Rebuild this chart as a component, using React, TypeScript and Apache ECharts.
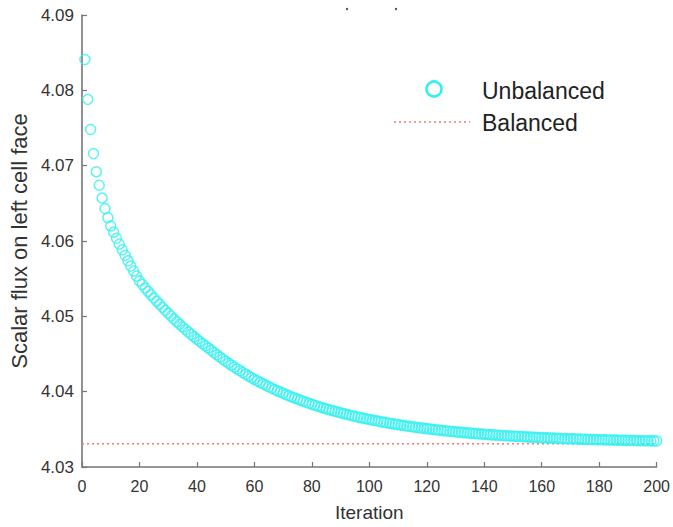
import React, { useEffect, useRef } from "react";
import * as echarts from "echarts";

// Scalar flux on the left cell face after each source iteration (iterations 1..200)
const unbalanced: number[] = [
  4.0841, 4.0788, 4.0748, 4.0716, 4.0692, 4.0674, 4.0657, 4.0643, 4.0631, 4.062,
  4.06117, 4.06037, 4.05958, 4.05882, 4.05809, 4.05737, 4.05667, 4.056, 4.05534, 4.0547,
  4.05423, 4.05376, 4.05331, 4.05287, 4.05243, 4.05201, 4.0516, 4.05119, 4.05079, 4.05041,
  4.05003, 4.04966, 4.04929, 4.04894, 4.04859, 4.04825, 4.04792, 4.0476, 4.04728, 4.04697,
  4.04667, 4.04637, 4.04608, 4.0458, 4.04549, 4.04518, 4.04489, 4.0446, 4.04432, 4.04404,
  4.04378, 4.04352, 4.04326, 4.04301, 4.04277, 4.04253, 4.0423, 4.04208, 4.04186, 4.04165,
  4.04144, 4.04123, 4.04104, 4.04084, 4.04065, 4.04047, 4.04029, 4.04012, 4.03995, 4.03978,
  4.03962, 4.03946, 4.0393, 4.03915, 4.03901, 4.03886, 4.03872, 4.03859, 4.03845, 4.03832,
  4.0382, 4.03807, 4.03795, 4.03784, 4.03772, 4.03761, 4.0375, 4.0374, 4.03729, 4.03719,
  4.03709, 4.037, 4.0369, 4.03681, 4.03672, 4.03664, 4.03655, 4.03647, 4.03639, 4.03631,
  4.03623, 4.03616, 4.03609, 4.03601, 4.03594, 4.03588, 4.03581, 4.03575, 4.03568, 4.03562,
  4.03556, 4.0355, 4.03545, 4.03539, 4.03534, 4.03528, 4.03523, 4.03518, 4.03513, 4.03509,
  4.03504, 4.03499, 4.03495, 4.03491, 4.03486, 4.03482, 4.03478, 4.03474, 4.03471, 4.03467,
  4.03463, 4.0346, 4.03456, 4.03453, 4.0345, 4.03446, 4.03443, 4.0344, 4.03437, 4.03434,
  4.03432, 4.03429, 4.03426, 4.03423, 4.03421, 4.03418, 4.03416, 4.03414, 4.03411, 4.03409,
  4.03407, 4.03405, 4.03403, 4.03401, 4.03399, 4.03397, 4.03395, 4.03393, 4.03391, 4.03389,
  4.03388, 4.03386, 4.03384, 4.03383, 4.03381, 4.0338, 4.03378, 4.03377, 4.03375, 4.03374,
  4.03373, 4.03371, 4.0337, 4.03369, 4.03368, 4.03366, 4.03365, 4.03364, 4.03363, 4.03362,
  4.03361, 4.0336, 4.03359, 4.03358, 4.03357, 4.03356, 4.03355, 4.03354, 4.03353, 4.03353,
  4.03352, 4.03351, 4.0335, 4.03349, 4.03349, 4.03348, 4.03347, 4.03347, 4.03346, 4.03345,
];

// Converged (balanced) value, drawn across the full iteration range
const balancedValue = 4.0331;
const balancedRange: number[] = [0, 200];

const xTicks = { min: 0, max: 200, interval: 20 };
const yTicks = { min: 4.03, max: 4.09, interval: 0.01 };

const CYAN = "#33f0f0";
const RED = "#f27a7a";
const AXIS = "#767676";
const TEXT = "#333333";
const FONT = "'Liberation Sans', Arial, sans-serif";

export default function App() {
  const ref = useRef<HTMLDivElement>(null);

  useEffect(() => {
    if (!ref.current) return;
    const chart = echarts.init(ref.current, undefined, { renderer: "svg" });

    const scatterData = unbalanced.map((v, i) => [i + 1, v]);
    const balancedData = balancedRange.map((x) => [x, balancedValue]);

    chart.setOption({
      animation: false,
      backgroundColor: "#ffffff",
      grid: { left: 81, right: 14, top: 15, bottom: 56, containLabel: false },
      xAxis: {
        type: "value",
        min: xTicks.min,
        max: xTicks.max,
        interval: xTicks.interval,
        name: "Iteration",
        nameLocation: "middle",
        nameGap: 36,
        nameTextStyle: { fontFamily: FONT, fontSize: 19, color: TEXT },
        axisLine: { onZero: false, lineStyle: { color: AXIS, width: 1.6 } },
        axisTick: { inside: true, length: 5, lineStyle: { color: AXIS, width: 1.2 } },
        axisLabel: { fontFamily: FONT, fontSize: 16, color: TEXT, margin: 11 },
        splitLine: { show: false },
      },
      yAxis: {
        type: "value",
        min: yTicks.min,
        max: yTicks.max,
        interval: yTicks.interval,
        name: "Scalar flux on left cell face",
        nameLocation: "middle",
        nameGap: 50,
        nameTextStyle: { fontFamily: FONT, fontSize: 22, color: TEXT },
        axisLine: { onZero: false, lineStyle: { color: AXIS, width: 1.6 } },
        axisTick: { inside: true, length: 5, lineStyle: { color: AXIS, width: 1.2 } },
        axisLabel: {
          fontFamily: FONT,
          fontSize: 17,
          color: TEXT,
          margin: 8,
          formatter: (v: number) => v.toFixed(2),
        },
        splitLine: { show: false },
      },
      series: [
        {
          name: "Balanced",
          type: "line",
          data: balancedData,
          symbol: "none",
          lineStyle: { color: RED, width: 1.5, type: [2, 3] },
          z: 1,
        },
        {
          name: "Unbalanced",
          type: "scatter",
          data: scatterData,
          symbol: "circle",
          symbolSize: 10,
          itemStyle: { color: "rgba(0,0,0,0)", borderColor: CYAN, borderWidth: 1.5 },
          z: 2,
        },
      ],
      graphic: [
        // legend
        {
          type: "circle",
          shape: { cx: 434, cy: 89, r: 7.5 },
          style: { fill: "none", stroke: CYAN, lineWidth: 2.6 },
        },
        {
          type: "text",
          x: 482,
          y: 91,
          style: {
            text: "Unbalanced",
            font: `23px ${FONT}`,
            fill: "#222222",
            verticalAlign: "middle",
          },
        },
        {
          type: "line",
          shape: { x1: 394, y1: 122, x2: 470, y2: 122 },
          style: { stroke: RED, lineWidth: 1.6, lineDash: [2, 3] },
        },
        {
          type: "text",
          x: 482,
          y: 123,
          style: {
            text: "Balanced",
            font: `23px ${FONT}`,
            fill: "#222222",
            verticalAlign: "middle",
          },
        },
        // fragments of a clipped title at the top edge
        { type: "circle", shape: { cx: 347, cy: 9, r: 1.2 }, style: { fill: "#555" } },
        { type: "circle", shape: { cx: 396, cy: 9, r: 1.2 }, style: { fill: "#555" } },
      ],
    });

    return () => chart.dispose();
  }, []);

  return (
    <div
      ref={ref}
      style={{ position: "fixed", left: 0, top: 0, width: 673, height: 527, background: "#fff" }}
    />
  );
}
